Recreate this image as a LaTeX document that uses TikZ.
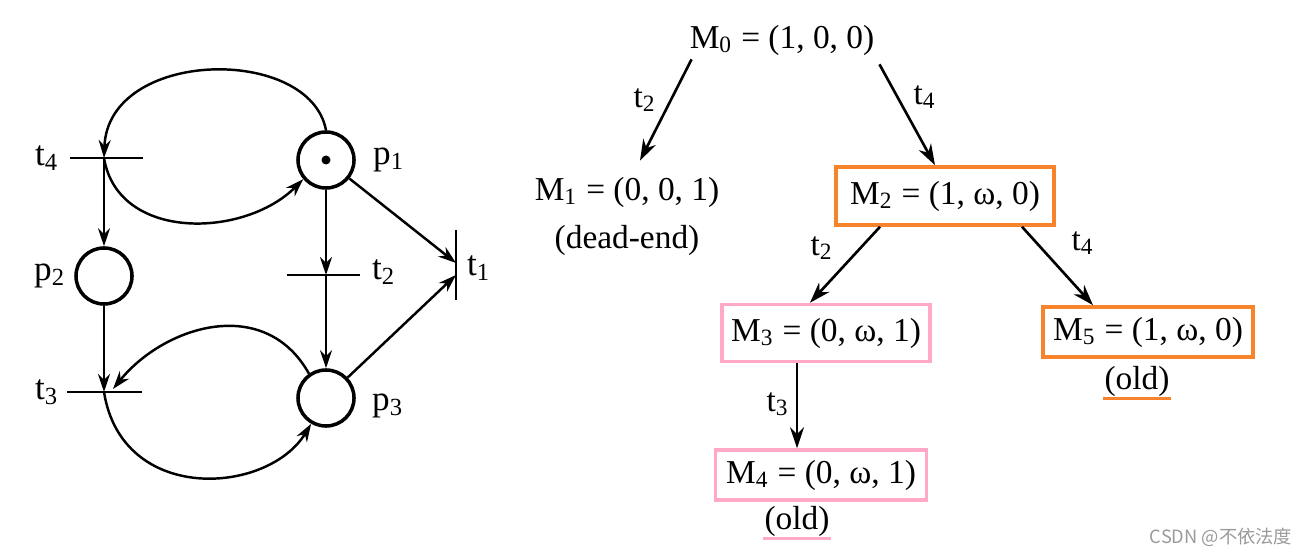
\documentclass[tikz,border=0pt]{standalone}
\usepackage{fontspec}
\setmainfont{Liberation Serif}
\newfontfamily\cjk{Noto Sans CJK SC}
\usepackage{xcolor}
\definecolor{oldorange}{HTML}{F7842A}
\definecolor{oldpink}{HTML}{FFA8C8}
\definecolor{wmgray}{HTML}{9A9A9A}
\usetikzlibrary{arrows.meta, calc}
\newcommand{\ix}[1]{\textsubscript{#1}}
\tikzset{
    place/.style = {circle, draw, line width=1pt, minimum size=5.6mm, inner sep=0pt},
    bar/.style = {line width=0.75pt},
    arc/.style = {-{Stealth[length=1.8mm, width=1.2mm]}, line width=0.7pt},
    treearc/.style = {-{Stealth[length=2.1mm, width=1.4mm]}, line width=0.75pt},
    lbl/.style = {font=\fontsize{10}{12}\selectfont, inner sep=0pt},
    marking/.style = {font=\fontsize{9.5}{11}\selectfont, inner sep=1pt},
    orangebox/.style = {marking, draw=oldorange, line width=1pt,
                        minimum width=2.1cm, minimum height=0.5cm},
    pinkbox/.style = {marking, draw=oldpink, line width=1pt,
                      minimum width=2.1cm, minimum height=0.5cm},
}

\begin{document}
\begin{tikzpicture}[x=0.01cm, y=-0.01cm]
    \useasboundingbox (0,0) rectangle (1304,555);

    % petri net
    \node[place] (p1) at (326,160) {};
    \node[place] (p2) at (104,276) {};
    \node[place] (p3) at (326,398) {};
    \fill (p1) circle (0.45mm);
    \coordinate (t4) at (104,158);
    \coordinate (t3) at (104,392);
    \coordinate (t2) at (326,275);
    \coordinate (t1) at (456,266);
    \draw[bar] ($(t4)+(-34,0)$) -- ($(t4)+(39,0)$);
    \draw[bar] ($(t3)+(-37,0)$) -- ($(t3)+(38,0)$);
    \draw[bar] ($(t2)+(-39,0)$) -- ($(t2)+(34,0)$);
    \draw[bar] ($(t1)+(0,-36)$) -- ($(t1)+(0,34)$);

    \node[lbl] (t4l) at (47,158) {t\ix{4}};
    \node[lbl] (t3l) at (47,392) {t\ix{3}};
    \node[lbl] (t2l) at (384,272) {t\ix{2}};
    \node[lbl] (t1l) at (479,268) {t\ix{1}};
    \node[lbl] (p1l) at (389,160) {p\ix{1}};
    \node[lbl] (p2l) at (50,276) {p\ix{2}};
    \node[lbl] (p3l) at (388,406) {p\ix{3}};

    \draw[arc] (t4) -- (p2);
    \draw[arc] (p2) -- (t3);
    \draw[arc] (p1) -- (t2);
    \draw[arc] (t2) -- (p3);
    \draw[arc] (p1) -- ($(t1)+(0,-3)$);
    \draw[arc] (p3) -- ($(t1)+(0,9)$);
    \draw[arc] (p1.north) .. controls (310,45) and (108,48) .. (t4);
    \draw[arc] (t4) .. controls (118,242) and (245,238) .. (p1.220);
    \draw[arc] (p3.125) .. controls (265,295) and (165,325) .. ($(t3)+(9,-3)$);
    \draw[arc] (t3) .. controls (122,505) and (268,495) .. (p3.240);

    % coverability tree
    \node[marking] (M0) at (782,40) {M\ix{0} = (1, 0, 0)};
    \node[marking] (M1) at (627,192) {M\ix{1} = (0, 0, 1)};
    \node[marking] (M1note) at (627,240) {(dead-end)};
    \node[orangebox, minimum width=2.18cm, minimum height=0.58cm] (M2) at (945,196) {M\ix{2} = (1, ω, 0)};
    \node[pinkbox, minimum width=2.08cm, minimum height=0.57cm] (M3) at (826,333) {M\ix{3} = (0, ω, 1)};
    \node[pinkbox, minimum width=2.11cm] (M4) at (821,475) {M\ix{4} = (0, ω, 1)};
    \node[marking] (old4) at (797,521) {(old)};
    \node[orangebox] (M5) at (1148,332) {M\ix{5} = (1, ω, 0)};
    \node[marking] (old5) at (1137,381) {(old)};

    \draw[treearc] ($(M0.south west)+(6,0)$) -- ($(M1.north)+(13,-12)$);
    \draw[treearc] ($(M0.south east)+(1,5)$) -- ($(M2.north)+(-10,0)$);
    \draw[treearc] ($(M2.south)+(-65,0)$) -- ($(M3.north)+(-16,0)$);
    \draw[treearc] ($(M2.south)+(77,0)$) -- ($(M5.north)+(-55,0)$);
    \draw[treearc] ($(M3.south)+(-29,0)$) -- ($(M4.north)+(-24,0)$);

    \node[marking] (e01) at (645,100) {t\ix{2}};
    \node[marking] (e02) at (925,97) {t\ix{4}};
    \node[marking] (e23) at (822,248) {t\ix{2}};
    \node[marking] (e25) at (1083,243) {t\ix{4}};
    \node[marking] (e34) at (778,404) {t\ix{3}};

    \draw[oldpink, line width=1pt] ($(old4.south west)+(3,-2)$) -- ($(old4.south east)+(-3,-2)$);
    \draw[oldorange, line width=1pt] ($(old5.south west)+(3,-2)$) -- ($(old5.south east)+(-3,-2)$);

    \node[font=\cjk\fontsize{5.2}{6}\selectfont, text=wmgray] (wm) at (1221,537) {CSDN @不依法度};
\end{tikzpicture}
\end{document}
